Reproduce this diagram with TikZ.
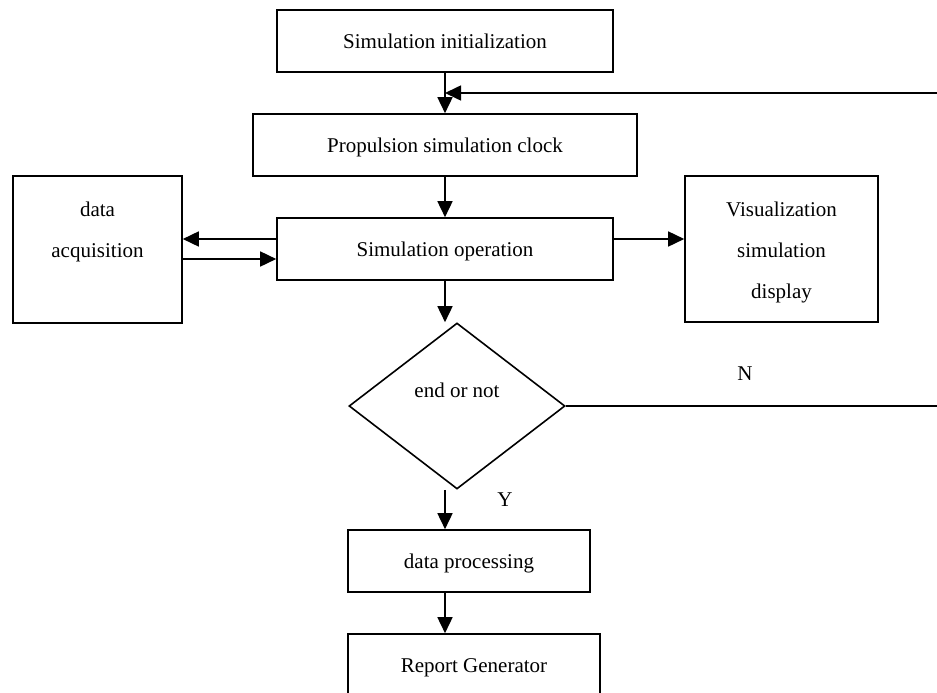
\documentclass[tikz,border=0pt]{standalone}
\usepackage{fontspec}
\setmainfont{Liberation Serif}
\usetikzlibrary{arrows.meta,shapes.geometric}
\begin{document}
\begin{tikzpicture}[x=1pt,y=-1pt,
  every node/.style={font=\fontsize{21}{41}\selectfont},
  boxbase/.style={draw,line width=1.6pt,rectangle,inner sep=0pt},
  onebox/.style={boxbase,text height=15pt,text depth=0pt},
  multibox/.style={boxbase,align=center},
  decision/.style={draw,line width=1.6pt,diamond,inner sep=0pt,aspect=1.3,
    minimum width=216pt,minimum height=166pt,text height=14pt,text depth=32pt},
  conn/.style={line width=1.6pt},
  arr/.style={conn,-{Triangle[length=16pt,width=15pt]}},
  lbl/.style={inner sep=0pt}]
\useasboundingbox (0,0) rectangle (937,693);
\clip (0,0) rectangle (937,693);
\fill[white] (0,0) rectangle (937,693);

\node[onebox,minimum width=336pt,minimum height=62pt] (init) at (445,41) {Simulation initialization};
\node[onebox,minimum width=384pt,minimum height=62pt] (prop) at (445,145) {Propulsion simulation clock};
\node[onebox,minimum width=336pt,minimum height=62pt] (op) at (445,249) {Simulation operation};
\node[multibox,minimum width=169pt,minimum height=147pt] (acq) at (97.5,249.5) {\strut data\\\strut acquisition\\\strut};
\node[multibox,minimum width=193pt,minimum height=146pt] (vis) at (781.5,249) {\strut Visualization\\\strut simulation\\\strut display};
\node[decision] (dia) at (457,406) {end or not};
\node[onebox,minimum width=242pt,minimum height=62pt] (dp) at (469,561) {data processing};
\node[onebox,minimum width=252pt,minimum height=62pt] (rep) at (474,665) {Report Generator};

\node[lbl] (nlab) at (745,374) {N};
\node[lbl] (ylab) at (505,500) {Y};

\coordinate (rtop) at (945,93);
\coordinate (rmid) at (945,406);

\draw[arr] (init.south) -- (prop.north);
\draw[arr] (rtop) -- (rtop -| init.south);
\draw[arr] (prop.south) -- (op.north);
\draw[arr] ([yshift=10pt]op.west) -- ([yshift=10pt]op.west -| acq.east);
\draw[arr] ([yshift=-10pt]op.west -| acq.east) -- ([yshift=-10pt]op.west);
\draw[arr] ([yshift=10pt]op.east) -- ([yshift=10pt]op.east -| vis.west);
\draw[arr] (op.south) -- (op.south |- dia.north);
\draw[conn] (dia.east) -- (rmid);
\draw[arr] (dia.south -| op.south) -- (dp.north -| op.south);
\draw[arr] (dp.south -| op.south) -- (rep.north -| op.south);
\end{tikzpicture}
\end{document}
